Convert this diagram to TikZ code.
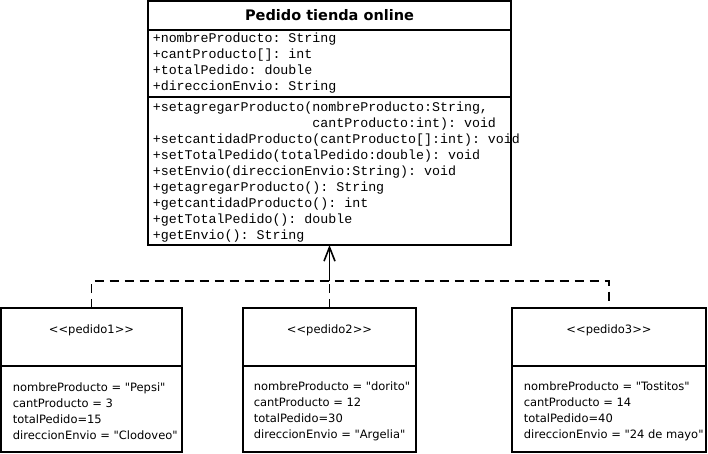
\documentclass[tikz,border=0pt]{standalone}
\usepackage{fontspec}
\setmainfont{DejaVu Sans}[Ligatures=TeXOff]
\setmonofont{Liberation Mono}[Ligatures=TeXOff]
\usetikzlibrary{arrows.meta}

\begin{document}
\begin{tikzpicture}[x=1pt, y=-1pt, line width=1.6pt,
	comp/.style={draw, anchor=north west, inner sep=0pt, outer sep=0pt},
	member/.style={anchor=west, align=left, inner xsep=4pt, inner ysep=0pt, font=\ttfamily\fontsize{13.3}{16}\selectfont},
	field/.style={anchor=west, align=left, inner xsep=11pt, inner ysep=0pt, font=\fontsize{11.5}{16}\selectfont},
	stereo/.style={font=\fontsize{11.5}{16}\selectfont, inner sep=0pt},
	real/.style={dash pattern=on 9pt off 6pt}]
	\useasboundingbox (0,0) rectangle (708,453);
	% clase
	\node[comp, minimum width=363pt, minimum height=29pt, font=\bfseries\fontsize{14.5}{16}\selectfont] (cls) at (148,1) {Pedido tienda online};
	\node[comp, minimum width=363pt, minimum height=67pt] (attr) at (cls.south west) {};
	\node[comp, minimum width=363pt, minimum height=148pt] (meth) at (attr.south west) {};
	\node[member] (attrtxt) at (attr.west) {+nombreProducto: String\\+cantProducto[]: int\\+totalPedido: double\\+direccionEnvio: String};
	\node[member] (methtxt) at ([yshift=-1.5pt]meth.west) {+setagregarProducto(nombreProducto:String,\\\hphantom{+setagregarProducto(}cantProducto:int): void\\+setcantidadProducto(cantProducto[]:int): void\\+setTotalPedido(totalPedido:double): void\\+setEnvio(direccionEnvio:String): void\\+getagregarProducto(): String\\+getcantidadProducto(): int\\+getTotalPedido(): double\\+getEnvio(): String};
	% objetos
	\node[comp, minimum width=181pt, minimum height=58pt] (p1) at (1,308) {};
	\node[comp, minimum width=181pt, minimum height=86pt] (a1) at (p1.south west) {};
	\node[comp, minimum width=173pt, minimum height=58pt] (p2) at (243,308) {};
	\node[comp, minimum width=173pt, minimum height=86pt] (a2) at (p2.south west) {};
	\node[comp, minimum width=194pt, minimum height=58pt] (p3) at (512,308) {};
	\node[comp, minimum width=194pt, minimum height=86pt] (a3) at (p3.south west) {};
	\node[stereo] (s1) at (91.5,330) {<<pedido1>>};
	\node[stereo] (s2) at (329.5,330) {<<pedido2>>};
	\node[stereo] (s3) at (609,330) {<<pedido3>>};
	\node[field] (f1) at ([yshift=-2pt]a1.west) {nombreProducto = "Pepsi"\\cantProducto = 3\\totalPedido=15\\direccionEnvio = "Clodoveo"};
	\node[field, inner xsep=10pt] (f2) at ([yshift=-2pt]a2.west) {nombreProducto = "dorito"\\cantProducto = 12\\totalPedido=30\\direccionEnvio = "Argelia"};
	\node[field] (f3) at ([yshift=-2pt]a3.west) {nombreProducto = "Tostitos"\\cantProducto = 14\\totalPedido=40\\direccionEnvio = "24 de mayo"};
	% relaciones
	\coordinate (j) at (329.5,281);
	\draw[real] (p1.north) -- (p1.north |- j) -- (p3.north |- j) -- (p3.north);
	\draw[real] (p2.north) -- (j);
	\draw[-{Straight Barb[length=14pt, width=11pt]}] (j) -- (meth.south);
\end{tikzpicture}
\end{document}
